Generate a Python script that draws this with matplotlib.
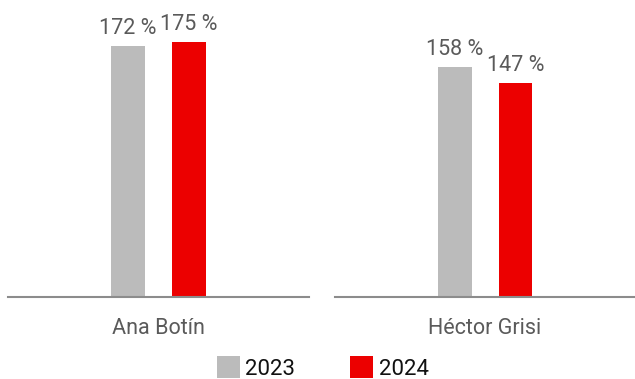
import matplotlib
matplotlib.use("Agg")
import matplotlib.pyplot as plt
from matplotlib.patches import Patch

plt.rcParams['font.family'] = ['Roboto', 'DejaVu Sans']

people = ["Ana Botín", "Héctor Grisi"]
years = ["2023", "2024"]
values_2023 = [172, 158]
values_2024 = [175, 147]
colors = {"2023": "#bbbbbb", "2024": "#ec0000"}

W, H = 635, 379
fig = plt.figure(figsize=(W / 100, H / 100), dpi=100)

base_y = 297
px_per_unit = 1.458
ymax = base_y / px_per_unit

panels = [(8, 309), (335, 635)]
offset = 0.203
width = 0.226

for i, (x0, x1) in enumerate(panels):
    ax = fig.add_axes([x0 / W, (H - base_y) / H, (x1 - x0) / W, base_y / H])
    for j, (yr, vals) in enumerate(zip(years, [values_2023, values_2024])):
        pos = -offset if j == 0 else offset
        bars = ax.bar([pos], [vals[i]], width=width, color=colors[yr], zorder=2)
        ax.bar_label(bars, labels=[f"{vals[i]} %"], padding=5,
                     fontsize=15.5, color="#5a5a5a")
    ax.set_xlim(-1, 1)
    ax.set_ylim(0, ymax)
    ax.set_yticks([])
    ax.set_xticks([0])
    ax.set_xticklabels([people[i]], fontsize=15.5, color="#5a5a5a")
    ax.tick_params(axis="x", length=0, pad=15)
    for s in ["top", "left", "right"]:
        ax.spines[s].set_visible(False)
    ax.spines["bottom"].set_color("#8c8c8c")
    ax.spines["bottom"].set_linewidth(1.5)
    ax.patch.set_visible(False)

handles = [Patch(facecolor=colors[y], edgecolor="none", label=y) for y in years]
fig.legend(handles=handles, loc="center", bbox_to_anchor=(0.508, 0.030),
           ncol=2, frameon=False, fontsize=16, handlelength=1.05,
           handleheight=1.2, handletextpad=0.25, columnspacing=2.45,
           labelcolor="#111111")

fig.savefig("out.png", dpi=100)
